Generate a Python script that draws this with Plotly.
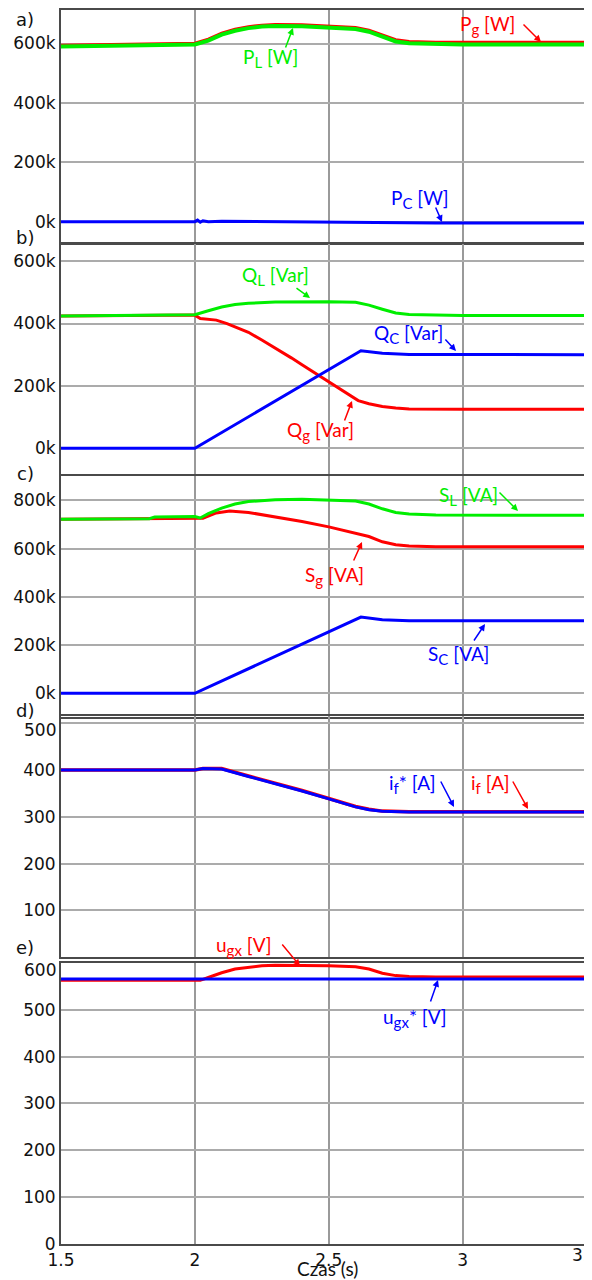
import plotly.graph_objects as go

# ---------------- data ----------------
# panel a) active power
t_a = [1.5, 1.8, 2.0, 2.05, 2.1, 2.15, 2.2, 2.25, 2.3, 2.4, 2.5, 2.6, 2.65, 2.7, 2.75, 2.8, 2.9, 3.0, 3.2, 3.49]
P_L = [590e3, 593e3, 597e3, 610e3, 630e3, 643e3, 652e3, 657e3, 659e3, 658e3, 654e3, 649e3, 640e3, 622e3, 607e3, 601e3, 598e3, 597e3, 597e3, 597e3]
P_g = [594e3, 597e3, 601e3, 615e3, 635e3, 648e3, 657e3, 662e3, 664e3, 663e3, 659e3, 654e3, 645e3, 628e3, 613e3, 607e3, 604e3, 604e3, 604e3, 604e3]
t_pc = [1.5, 2.0, 2.01, 2.02, 2.03, 2.05, 2.1, 2.3, 2.5, 2.7, 2.9, 3.49]
P_c = [0, 0, 5e3, -2e3, 3e3, 0, 1e3, -1e3, -2e3, -4e3, -5e3, -5e3]

# panel b) reactive power
t_ql = [1.5, 1.8, 2.0, 2.05, 2.1, 2.15, 2.2, 2.3, 2.4, 2.5, 2.6, 2.65, 2.7, 2.75, 2.8, 2.9, 3.0, 3.49]
Q_L = [424e3, 426e3, 428e3, 441e3, 453e3, 461e3, 465e3, 469e3, 470e3, 470e3, 468e3, 459e3, 446e3, 434e3, 429e3, 427e3, 426e3, 426e3]
t_qg = [1.5, 2.0, 2.02, 2.08, 2.12, 2.2, 2.25, 2.3, 2.36, 2.4, 2.48, 2.55, 2.61, 2.65, 2.7, 2.75, 2.8, 3.0, 3.49]
Q_g = [424e3, 427e3, 416e3, 411e3, 400e3, 372e3, 347e3, 322e3, 290e3, 268e3, 225e3, 188e3, 153e3, 143e3, 134e3, 129e3, 126e3, 125e3, 125e3]
t_qc = [1.5, 2.0, 2.62, 2.7, 2.8, 3.49]
Q_c = [0, 0, 313e3, 305e3, 301e3, 300e3]

# panel c) apparent power
t_sl = [1.5, 1.83, 1.85, 2.0, 2.02, 2.05, 2.1, 2.15, 2.2, 2.3, 2.4, 2.5, 2.6, 2.65, 2.7, 2.75, 2.8, 2.9, 3.49]
S_L = [722e3, 724e3, 731e3, 733e3, 727e3, 745e3, 768e3, 785e3, 795e3, 803e3, 805e3, 802e3, 797e3, 785e3, 765e3, 750e3, 743e3, 739e3, 738e3]
t_sg = [1.5, 2.0, 2.03, 2.08, 2.13, 2.2, 2.3, 2.4, 2.5, 2.6, 2.65, 2.7, 2.75, 2.8, 2.9, 3.49]
S_g = [722e3, 728e3, 726e3, 748e3, 756e3, 750e3, 732e3, 712e3, 690e3, 665e3, 650e3, 628e3, 616e3, 611e3, 608e3, 608e3]
t_sc = [1.5, 2.0, 2.62, 2.7, 2.8, 3.49]
S_c = [0, 0, 316e3, 305e3, 301e3, 301e3]

# panel d) field current
t_if = [1.5, 2.0, 2.03, 2.1, 2.2, 2.3, 2.4, 2.5, 2.6, 2.65, 2.7, 2.8, 3.49]
i_f = [400, 400, 403, 403, 387, 372, 356, 339, 322, 316, 312, 310.5, 310.5]
i_f_ref = [400, 400, 403, 402, 386, 371, 355, 338, 321, 315, 311.5, 310, 310]

# panel e) voltage
t_u = [1.5, 2.0, 2.02, 2.05, 2.1, 2.15, 2.2, 2.25, 2.3, 2.4, 2.5, 2.6, 2.65, 2.7, 2.75, 2.8, 2.9, 3.49]
u_gx = [563, 563, 563, 569, 579, 587, 591, 594, 595, 595, 594, 592, 587, 578, 573, 571, 570, 570]
t_uref = [1.5, 3.49]
u_gx_ref = [566, 566]

# axis ticks
x_ticks = [1.5, 2, 2.5, 3]
x_ticktext = ['1.5', '2', '2.5', '3']
ticks_a = [0, 200e3, 400e3, 600e3]
ticks_a_txt = ['0k', '200k', '400k', '600k']
ticks_c = [0, 200e3, 400e3, 600e3, 800e3]
ticks_c_txt = ['0k', '200k', '400k', '600k', '800k']
ticks_d = [100, 200, 300, 400, 500]
ticks_e = [0, 100, 200, 300, 400, 500, 600]

# ---------------- layout geometry ----------------
# page body has an 8px default margin, so the figure is shifted by OFF on screen
OFF = 8
SCR_W, SCR_H = 592, 1280
W, H = SCR_W - OFF, SCR_H - OFF
# plot area in screen pixels
X0, X1, Y0, Y1 = 61, 592, 10, 1244
GREEN, RED, BLUE = '#00ee00', '#ff0000', '#0000ff'
TICKFONT = dict(family='DejaVu Sans', size=17, color='#111111')
ANNFONT = 'Lato'


def py2p(py):
    return (Y1 - py) / (Y1 - Y0)


def px2p(px):
    return (px - X0) / (X1 - X0)


def sub(s):
    return '<sub><span style="font-size:15px">' + s + '</span></sub>'


panels = [
    dict(top=10, bottom=243, rng=[-72e3, 713e3], tv=ticks_a, tt=ticks_a_txt),
    dict(top=244, bottom=476.7, rng=[-91e3, 655e3], tv=ticks_a, tt=ticks_a_txt),
    dict(top=476, bottom=716.7, rng=[-97e3, 901e3], tv=ticks_c, tt=ticks_c_txt),
    # the topmost labels of d) and e) sit lower than their grid line -> drawn as annotations
    dict(top=716, bottom=957.3, rng=[0, 515], tv=ticks_d, tt=[str(v) for v in ticks_d[:-1]] + ['']),
    dict(top=962.5, bottom=1244, rng=[0, 601], tv=ticks_e, tt=[str(v) for v in ticks_e[:-1]] + ['']),
]

fig = go.Figure()


def add(t, v, color, width, i):
    sfx = '' if i == 1 else str(i)
    fig.add_trace(go.Scatter(x=t, y=v, mode='lines', line=dict(color=color, width=width),
                             xaxis='x' + sfx, yaxis='y' + sfx, showlegend=False, hoverinfo='skip'))


add(t_a, P_g, RED, 3, 1)
add(t_a, P_L, GREEN, 4, 1)
add(t_pc, P_c, BLUE, 3, 1)

add(t_qg, Q_g, RED, 3, 2)
add(t_qc, Q_c, BLUE, 3, 2)
add(t_ql, Q_L, GREEN, 3, 2)

add(t_sg, S_g, RED, 3, 3)
add(t_sl, S_L, GREEN, 3, 3)
add(t_sc, S_c, BLUE, 3, 3)

add(t_if, i_f, RED, 3.5, 4)
add(t_if, i_f_ref, BLUE, 3, 4)

add(t_u, u_gx, RED, 3, 5)
add(t_uref, u_gx_ref, BLUE, 3, 5)

layout = dict(width=W, height=H,
              margin=dict(l=X0 - OFF, r=SCR_W - X1, t=Y0 - OFF, b=SCR_H - Y1, autoexpand=False),
              paper_bgcolor='white', plot_bgcolor='white', showlegend=False, template='none')

for i, p in enumerate(panels, start=1):
    sfx = '' if i == 1 else str(i)
    layout['xaxis' + sfx] = dict(
        domain=[0, 1], anchor='y' + sfx, range=[1.5, 3.483], automargin=False,
        tickvals=x_ticks, ticktext=x_ticktext, showticklabels=(i == 5),
        tickfont=TICKFONT, ticks='', showgrid=True, gridcolor='#9a9a9a', gridwidth=2,
        showline=True, mirror=True, linecolor='#4a4a4a', linewidth=2, zeroline=False,
        matches=None if i == 1 else 'x')
    layout['yaxis' + sfx] = dict(
        domain=[py2p(p['bottom']), py2p(p['top'])], anchor='x' + sfx, range=p['rng'],
        automargin=False,
        tickvals=p['tv'], ticktext=p['tt'], tickfont=TICKFONT, ticks='',
        showgrid=True, gridcolor='#ababab', gridwidth=1.5,
        showline=True, mirror=False, linecolor='#4a4a4a', linewidth=2, zeroline=False)

fig.update_layout(**layout)

# ---------------- text labels and arrows (screen pixel positions) ----------------
texts = [
    # (text, center px, center py, color)
    ('P' + sub('L') + ' [W]', 270, 58, GREEN),
    ('P' + sub('g') + ' [W]', 487, 25, RED),
    ('P' + sub('C') + ' [W]', 420, 199, BLUE),
    ('Q' + sub('L') + ' [Var]', 275, 276, GREEN),
    ('Q' + sub('C') + ' [Var]', 408, 334, BLUE),
    ('Q' + sub('g') + ' [Var]', 320, 431, RED),
    ('S' + sub('L') + ' [VA]', 468, 496, GREEN),
    ('S' + sub('g') + ' [VA]', 334, 576, RED),
    ('S' + sub('C') + ' [VA]', 458, 655, BLUE),
    ('i' + sub('f') + '* [A]', 412, 784, BLUE),
    ('i' + sub('f') + ' [A]', 490, 784, RED),
    ('u' + sub('gx') + ' [V]', 244, 946, RED),
    ('u' + sub('gx') + '* [V]', 415, 1018, BLUE),
]
arrows = [
    # (tail px, tail py, head px, head py, color)
    (285, 49, 293, 28, GREEN),
    (522, 23, 541, 42, RED),
    (435, 206, 442, 222, BLUE),
    (295, 287, 310, 298, GREEN),
    (444, 338, 456, 351, BLUE),
    (344, 422, 352, 401, RED),
    (498, 491, 518, 511, GREEN),
    (353, 562, 362, 542, RED),
    (473, 642, 485, 624, BLUE),
    (440, 780, 454, 807, BLUE),
    (512, 780, 528, 809, RED),
    (281, 943, 300, 966, RED),
    (430, 1003, 438, 980, BLUE),
]
panel_labels = [('a)', 25, 20), ('b)', 25, 238), ('c)', 25, 473), ('d)', 25, 710), ('e)', 25, 947)]
top_tick_labels = [('500', 58, 730), ('600', 58, 970)]

anns = []
for txt, cx, cy, col in texts:
    anns.append(dict(text=txt, x=px2p(cx), y=py2p(cy), xref='paper', yref='paper',
                     xanchor='center', yanchor='middle', showarrow=False,
                     font=dict(family=ANNFONT, size=19, color=col)))
for tx, ty, hx, hy, col in arrows:
    anns.append(dict(text='', x=px2p(hx), y=py2p(hy), xref='paper', yref='paper',
                     ax=tx - hx, ay=ty - hy, axref='pixel', ayref='pixel',
                     showarrow=True, arrowhead=2, arrowsize=0.9, arrowwidth=1.5,
                     arrowcolor=col, standoff=0, startstandoff=0))
for txt, cx, cy in panel_labels:
    anns.append(dict(text=txt, x=px2p(cx), y=py2p(cy), xref='paper', yref='paper',
                     xanchor='center', yanchor='middle', showarrow=False,
                     font=dict(family='DejaVu Sans', size=18, color='#111111')))
for txt, rx, cy in top_tick_labels:
    anns.append(dict(text=txt, x=px2p(rx), y=py2p(cy), xref='paper', yref='paper',
                     xanchor='right', yanchor='middle', showarrow=False, font=TICKFONT))
# cut-off last tick label and axis title
anns.append(dict(text='3.5', x=px2p(570), y=py2p(1255), xref='paper', yref='paper',
                 xanchor='left', yanchor='middle', showarrow=False, font=TICKFONT))
anns.append(dict(text='Czas (s)', x=px2p(327), y=py2p(1269), xref='paper', yref='paper',
                 xanchor='center', yanchor='middle', showarrow=False,
                 font=dict(family=ANNFONT, size=19, color='#111111')))

fig.update_layout(annotations=anns)
fig.write_html('out.html')
